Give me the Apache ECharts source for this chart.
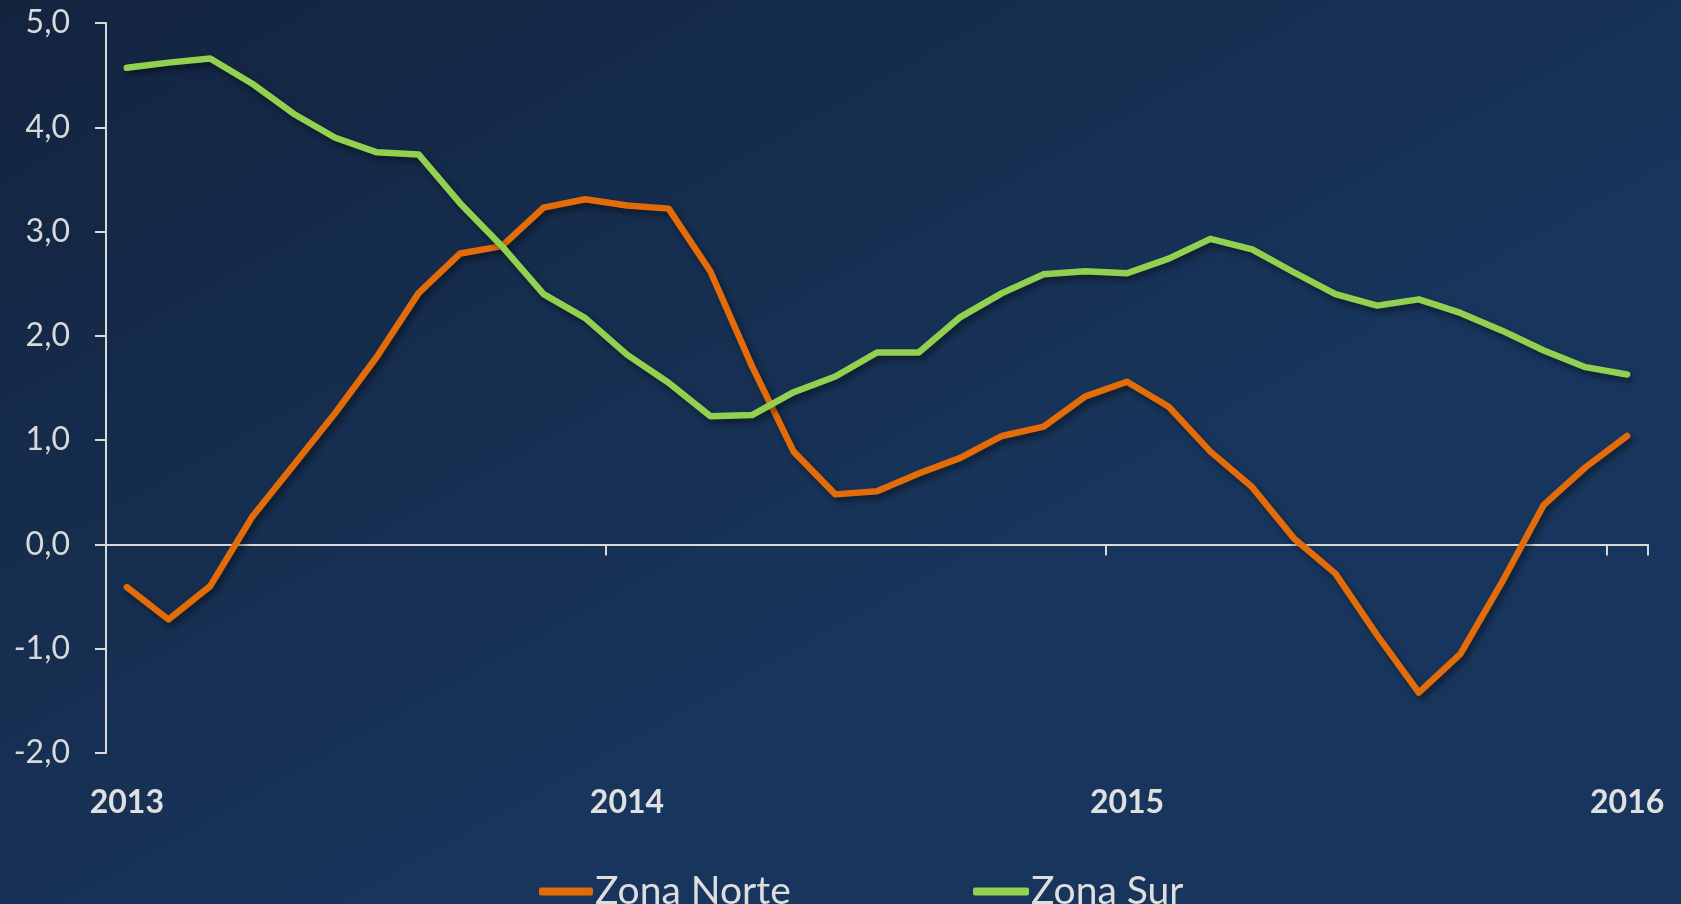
<!DOCTYPE html>
<html>
<head>
<meta charset="utf-8">
<title>Zona Norte / Zona Sur</title>
<script src="https://cdn.jsdelivr.net/npm/echarts@6/dist/echarts.min.js"></script>
<style>
    html, body { margin: 0; padding: 0; background: #15294a; }
    #chart { width: 1681px; height: 904px; }
</style>
</head>
<body>
<div id="chart"></div>
<script>
    // meses ene-2013 .. ene-2016
    const meses = [
        '2013-01', '2013-02', '2013-03', '2013-04', '2013-05', '2013-06',
        '2013-07', '2013-08', '2013-09', '2013-10', '2013-11', '2013-12',
        '2014-01', '2014-02', '2014-03', '2014-04', '2014-05', '2014-06',
        '2014-07', '2014-08', '2014-09', '2014-10', '2014-11', '2014-12',
        '2015-01', '2015-02', '2015-03', '2015-04', '2015-05', '2015-06',
        '2015-07', '2015-08', '2015-09', '2015-10', '2015-11', '2015-12',
        '2016-01',
    ];
    const zonaNorte = [
        -0.41, -0.72, -0.40, 0.26, 0.76, 1.26, 1.80, 2.41, 2.79, 2.86, 3.23, 3.31,
        3.25, 3.22, 2.62, 1.71, 0.89, 0.48, 0.51, 0.68, 0.83, 1.04, 1.13, 1.42,
        1.56, 1.32, 0.89, 0.55, 0.06, -0.28, -0.87, -1.42, -1.05, -0.36, 0.38, 0.74,
        1.04,
    ];
    const zonaSur = [
        4.57, 4.62, 4.66, 4.42, 4.13, 3.90, 3.76, 3.74, 3.27, 2.86, 2.40, 2.17,
        1.82, 1.55, 1.23, 1.24, 1.46, 1.61, 1.84, 1.84, 2.18, 2.41, 2.59, 2.62,
        2.60, 2.74, 2.93, 2.83, 2.61, 2.40, 2.29, 2.35, 2.22, 2.05, 1.86, 1.70,
        1.63,
    ];
    const nombres = ['Zona Norte', 'Zona Sur'];
    const colores = ['#e36c09', '#92d050'];

    const fuente = 'Lato, "Open Sans", sans-serif';
    const gris = '#d9d9d9';

    const chart = echarts.init(document.getElementById('chart'), null, { renderer: 'canvas' });

    const sombra = {
        shadowColor: 'rgba(0, 0, 0, 0.45)',
        shadowBlur: 6,
        shadowOffsetX: 3,
        shadowOffsetY: 4,
    };

    chart.setOption({
        backgroundColor: {
            type: 'linear',
            x: 0, y: 0, x2: 0.3, y2: 1,
            colorStops: [
                { offset: 0, color: '#13243f' },
                { offset: 1, color: '#18365d' },
            ],
        },
        animation: false,
        textStyle: { fontFamily: fuente },
        grid: {
            left: 106,
            right: 33,
            top: 23,
            bottom: 151,
            containLabel: false,
            outerBoundsMode: 'none',
        },
        legend: [
            {
                data: [nombres[0]],
                left: 534,
                top: 867,
                icon: 'roundRect',
                itemWidth: 54,
                itemHeight: 8,
                itemGap: 5,
                textStyle: { color: '#dedede', fontSize: 39, fontFamily: fuente, padding: [0, 0, 0, -3] },
            },
            {
                data: [nombres[1]],
                left: 968,
                top: 867,
                icon: 'roundRect',
                itemWidth: 56,
                itemHeight: 8,
                itemGap: 5,
                textStyle: { color: '#dedede', fontSize: 39, fontFamily: fuente, padding: [0, 0, 0, -3] },
            },
        ],
        xAxis: {
            type: 'category',
            data: meses,
            boundaryGap: true,
            axisLine: {
                onZero: true,
                lineStyle: { color: gris, width: 2 },
            },
            axisTick: {
                show: true,
                interval: 11,
                length: 11,
                lineStyle: { color: gris, width: 2 },
            },
            axisLabel: {
                interval: 11,
                margin: 34,
                color: '#e0e0e0',
                fontSize: 32,
                fontWeight: 'bold',
                fontFamily: fuente,
                formatter: (v) => v.slice(0, 4),
            },
            splitLine: { show: false },
        },
        yAxis: {
            type: 'value',
            min: -2,
            max: 5,
            interval: 1,
            axisLine: {
                show: true,
                lineStyle: { color: gris, width: 2 },
            },
            axisTick: {
                show: true,
                length: 11,
                lineStyle: { color: gris, width: 2 },
            },
            axisLabel: {
                margin: 36,
                color: gris,
                fontSize: 32,
                fontFamily: fuente,
                formatter: (v) => v.toFixed(1).replace('.', ','),
            },
            splitLine: { show: false },
        },
        series: [
            {
                name: nombres[0],
                type: 'line',
                data: zonaNorte,
                symbol: 'none',
                smooth: false,
                color: colores[0],
                lineStyle: Object.assign({ color: colores[0], width: 6.5, cap: 'round', join: 'round' }, sombra),
            },
            {
                name: nombres[1],
                type: 'line',
                data: zonaSur,
                symbol: 'none',
                smooth: false,
                color: colores[1],
                lineStyle: Object.assign({ color: colores[1], width: 6.5, cap: 'round', join: 'round' }, sombra),
            },
        ],
    });
</script>
</body>
</html>
